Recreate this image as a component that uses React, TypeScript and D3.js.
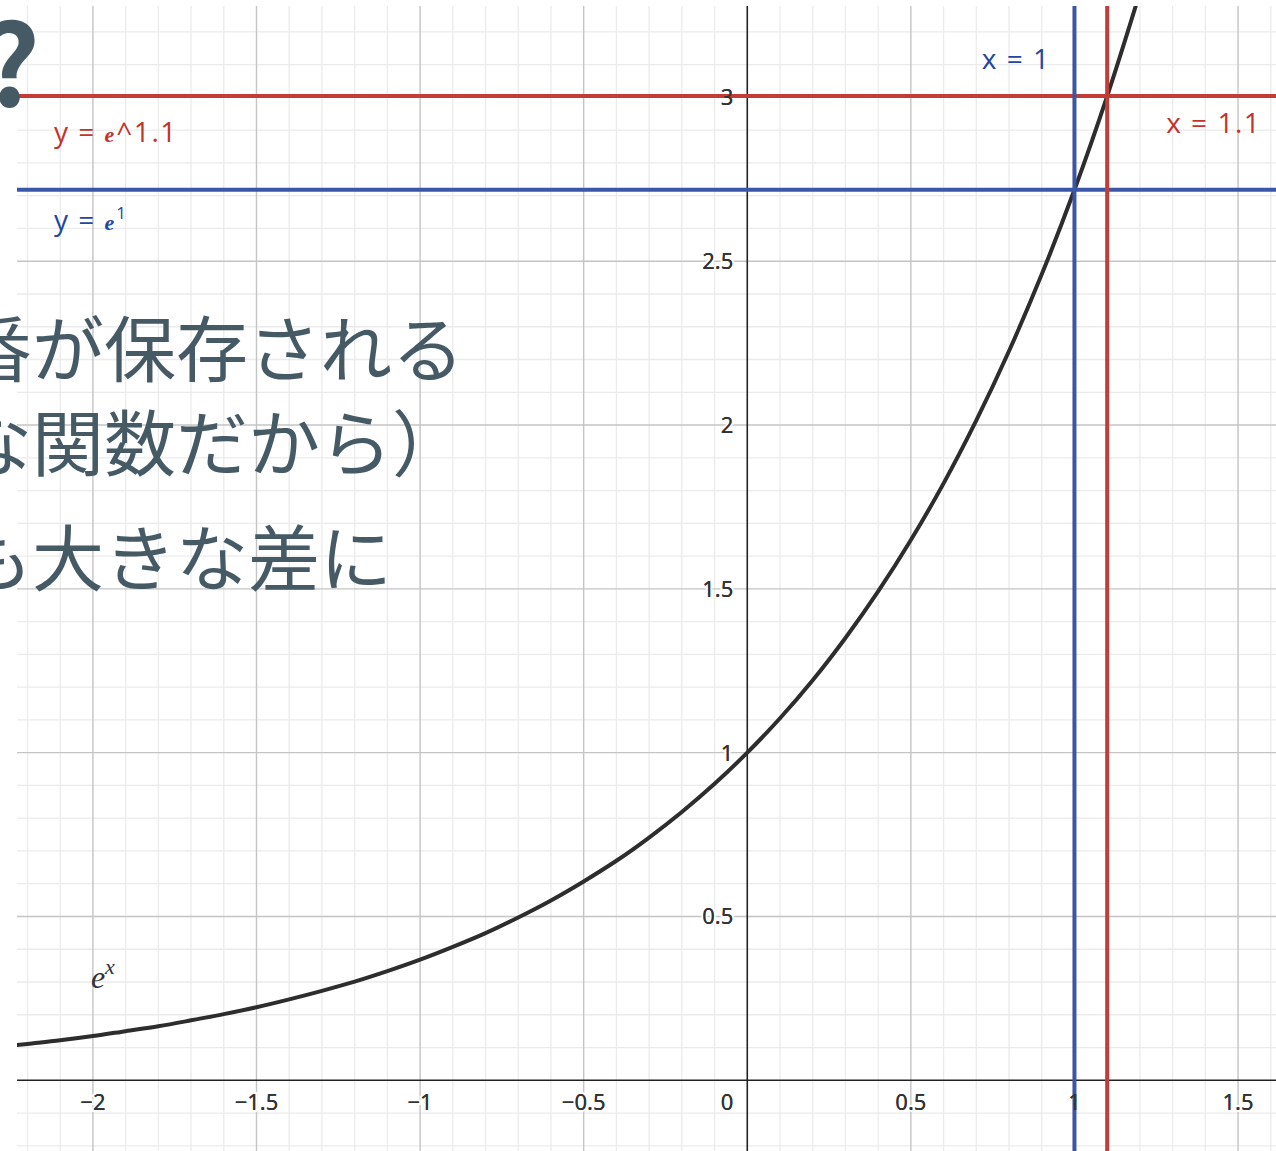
import React, { useEffect, useRef } from "react";
import * as d3 from "d3";

// values
const curveX = [-2.3, -2.2, -2.1, -2.0, -1.9, -1.8, -1.7, -1.6, -1.5, -1.4, -1.3, -1.2, -1.1, -1.0, -0.9, -0.8, -0.7, -0.6, -0.5, -0.4, -0.3, -0.2, -0.1, 0.0, 0.1, 0.2, 0.3, 0.4, 0.5, 0.6, 0.7, 0.8, 0.9, 1.0, 1.1, 1.2];
const curveY = [0.100, 0.111, 0.122, 0.135, 0.150, 0.165, 0.183, 0.202, 0.223, 0.247, 0.273, 0.301, 0.333, 0.368, 0.407, 0.449, 0.497, 0.549, 0.607, 0.670, 0.741, 0.819, 0.905, 1.0, 1.105, 1.221, 1.350, 1.492, 1.649, 1.822, 2.014, 2.226, 2.460, 2.718, 3.004, 3.320];

const xTickValues = [-2, -1.5, -1, -0.5, 0, 0.5, 1, 1.5];
const xTickLabels = ["−2", "−1.5", "−1", "−0.5", "0", "0.5", "1", "1.5"];
const yTickValues = [0.5, 1, 1.5, 2, 2.5, 3];
const yTickLabels = ["0.5", "1", "1.5", "2", "2.5", "3"];

const hLines = [
  { value: 2.718, color: "#3a56a6", label: "y = ", exp: "1", caret: false, textColor: "#2346a0" },
  { value: 3.004, color: "#c43c36", label: "y = ", exp: "^1.1", caret: true, textColor: "#c2342c" },
];
const vLines = [
  { value: 1.0, color: "#3a56a6", label: "x = 1", textColor: "#2346a0" },
  { value: 1.1, color: "#c43c36", label: "x = 1.1", textColor: "#c2342c" },
];

const textLines = ["番が保存される", "な関数だから）", "も大きな差に"];

function App() {
  const svgRef = useRef<SVGSVGElement>(null);
  const width = 1276;
  const height = 1151;

  useEffect(() => {
    const svg = d3.select(svgRef.current);
    svg.selectAll("*").remove();

    const panel = { left: 17, top: 6, right: width, bottom: height };

    const x = d3.scaleLinear().domain([-2.232, 1.616]).range([panel.left, panel.right]);
    const y = d3.scaleLinear().domain([-0.2158, 3.279]).range([panel.bottom, panel.top]);

    svg.append("rect").attr("width", width).attr("height", height).attr("fill", "#fff");

    svg
      .append("defs")
      .append("clipPath")
      .attr("id", "panel")
      .append("rect")
      .attr("x", panel.left)
      .attr("y", panel.top)
      .attr("width", panel.right - panel.left)
      .attr("height", panel.bottom - panel.top);

    const g = svg.append("g").attr("clip-path", "url(#panel)");

    // grid: minor every 0.1, major every 0.5
    const minorX = d3.range(-22, 17).map((i) => i / 10);
    const minorY = d3.range(-2, 33).map((i) => i / 10);
    const isMajor = (v: number) => Math.abs(v * 2 - Math.round(v * 2)) < 1e-6;

    g.append("g")
      .selectAll("line")
      .data(minorX.filter((v) => !isMajor(v)))
      .join("line")
      .attr("x1", (d) => x(d))
      .attr("x2", (d) => x(d))
      .attr("y1", panel.top)
      .attr("y2", panel.bottom)
      .attr("stroke", "#ebebeb")
      .attr("stroke-width", 1.3);

    g.append("g")
      .selectAll("line")
      .data(minorY.filter((v) => !isMajor(v)))
      .join("line")
      .attr("x1", panel.left)
      .attr("x2", panel.right)
      .attr("y1", (d) => y(d))
      .attr("y2", (d) => y(d))
      .attr("stroke", "#ebebeb")
      .attr("stroke-width", 1.3);

    g.append("g")
      .selectAll("line")
      .data(minorX.filter((v) => isMajor(v) && v !== 0))
      .join("line")
      .attr("x1", (d) => x(d))
      .attr("x2", (d) => x(d))
      .attr("y1", panel.top)
      .attr("y2", panel.bottom)
      .attr("stroke", "#c4c4c4")
      .attr("stroke-width", 1.4);

    g.append("g")
      .selectAll("line")
      .data(minorY.filter((v) => isMajor(v) && v !== 0))
      .join("line")
      .attr("x1", panel.left)
      .attr("x2", panel.right)
      .attr("y1", (d) => y(d))
      .attr("y2", (d) => y(d))
      .attr("stroke", "#c4c4c4")
      .attr("stroke-width", 1.4);

    // axes
    g.append("line")
      .attr("x1", panel.left)
      .attr("x2", panel.right)
      .attr("y1", y(0))
      .attr("y2", y(0))
      .attr("stroke", "#222")
      .attr("stroke-width", 1.6);
    g.append("line")
      .attr("x1", x(0))
      .attr("x2", x(0))
      .attr("y1", panel.top)
      .attr("y2", panel.bottom)
      .attr("stroke", "#222")
      .attr("stroke-width", 1.6);

    // tick labels: white halo under, plain text again on top of the lines
    const tickFont = "'Noto Sans', 'DejaVu Sans', sans-serif";
    const drawTicks = (halo: boolean) => {
      const gx = g
        .append("g")
        .selectAll("text")
        .data(xTickValues)
        .join("text")
        .attr("x", (d) => (d === 0 ? x(0) - 14 : x(d)))
        .attr("y", y(0) + 30)
        .attr("text-anchor", (d) => (d === 0 ? "end" : "middle"))
        .attr("font-family", tickFont)
        .attr("font-size", 22)
        .attr("fill", "#333")
        .text((d, i) => xTickLabels[i]);
      const gy = g
        .append("g")
        .selectAll("text")
        .data(yTickValues)
        .join("text")
        .attr("x", x(0) - 14)
        .attr("y", (d) => y(d))
        .attr("dy", "0.36em")
        .attr("text-anchor", "end")
        .attr("font-family", tickFont)
        .attr("font-size", 22)
        .attr("fill", "#333")
        .text((d, i) => yTickLabels[i]);
      if (halo) {
        [gx, gy].forEach((s) =>
          s.attr("stroke", "#fff").attr("stroke-width", 4).attr("paint-order", "stroke")
        );
      }
    };
    drawTicks(true);

    // e^x curve
    const line = d3
      .line<number>()
      .x((d, i) => x(curveX[i]))
      .y((d) => y(d))
      .curve(d3.curveCatmullRom.alpha(0.5));

    g.append("path")
      .attr("d", line(curveY))
      .attr("fill", "none")
      .attr("stroke", "#2d2d2d")
      .attr("stroke-width", 4);

    // reference lines
    g.append("g")
      .selectAll("line")
      .data(hLines)
      .join("line")
      .attr("x1", panel.left)
      .attr("x2", panel.right)
      .attr("y1", (d) => y(d.value))
      .attr("y2", (d) => y(d.value))
      .attr("stroke", (d) => d.color)
      .attr("stroke-width", 4);

    g.append("g")
      .selectAll("line")
      .data(vLines)
      .join("line")
      .attr("x1", (d) => x(d.value))
      .attr("x2", (d) => x(d.value))
      .attr("y1", panel.top)
      .attr("y2", panel.bottom)
      .attr("stroke", (d) => d.color)
      .attr("stroke-width", 4);

    drawTicks(false);

    const labelFont = "'Open Sans', 'Noto Sans', sans-serif";
    const mathFont = "'Liberation Serif', 'DejaVu Serif', serif";

    // labels of horizontal lines
    hLines.forEach((d) => {
      const t = g
        .append("text")
        .attr("x", 54)
        .attr("y", y(d.value) + (d.caret ? 46 : 40))
        .attr("font-family", labelFont)
        .attr("font-size", 28)
        .attr("letter-spacing", 1.5)
        .attr("fill", d.textColor);
      t.append("tspan").text(d.label);
      t.append("tspan")
        .attr("font-family", mathFont)
        .attr("font-style", "italic")
        .attr("font-weight", "bold")
        .attr("font-size", 22)
        .attr("letter-spacing", 0)
        .text("e");
      if (d.caret) {
        t.append("tspan").attr("dx", 2).text(d.exp);
      } else {
        t.append("tspan")
          .attr("font-size", 17)
          .attr("dx", 2)
          .attr("dy", -11)
          .text(d.exp);
      }
    });

    // labels of vertical lines
    g.append("text")
      .attr("x", x(1) - 24)
      .attr("y", 69)
      .attr("text-anchor", "end")
      .attr("font-family", labelFont)
      .attr("font-size", 28)
      .attr("letter-spacing", 1.5)
      .attr("fill", vLines[0].textColor)
      .text(vLines[0].label);

    g.append("text")
      .attr("x", x(1.1) + 59)
      .attr("y", 133)
      .attr("font-family", labelFont)
      .attr("font-size", 28)
      .attr("letter-spacing", 1.5)
      .attr("fill", vLines[1].textColor)
      .text(vLines[1].label);

    // curve label e^x
    const ex = g
      .append("text")
      .attr("x", x(-2) - 2)
      .attr("y", 988)
      .attr("font-family", mathFont)
      .attr("font-style", "italic")
      .attr("font-size", 32)
      .attr("fill", "#333");
    ex.append("tspan").text("e");
    ex.append("tspan").attr("font-size", 22).attr("dy", -14).text("x");

    // slide text laid over the graph
    svg
      .append("text")
      .attr("x", 40)
      .attr("y", 106)
      .attr("text-anchor", "end")
      .attr("font-family", "'Noto Sans CJK JP', sans-serif")
      .attr("font-weight", "bold")
      .attr("font-size", 112)
      .attr("fill", "#455a64")
      .text("?");

    const textBaselines = [376, 470, 585];
    svg
      .append("g")
      .selectAll("text")
      .data(textLines)
      .join("text")
      .attr("x", -40)
      .attr("y", (d, i) => textBaselines[i])
      .attr("font-family", "'Noto Sans CJK JP', sans-serif")
      .attr("font-size", 72)
      .attr("fill", "#455a64")
      .text((d) => d);
  }, []);

  return (
    <svg
      ref={svgRef}
      width={width}
      height={height}
      style={{ position: "absolute", left: 0, top: 0, display: "block" }}
    ></svg>
  );
}

export default App;
